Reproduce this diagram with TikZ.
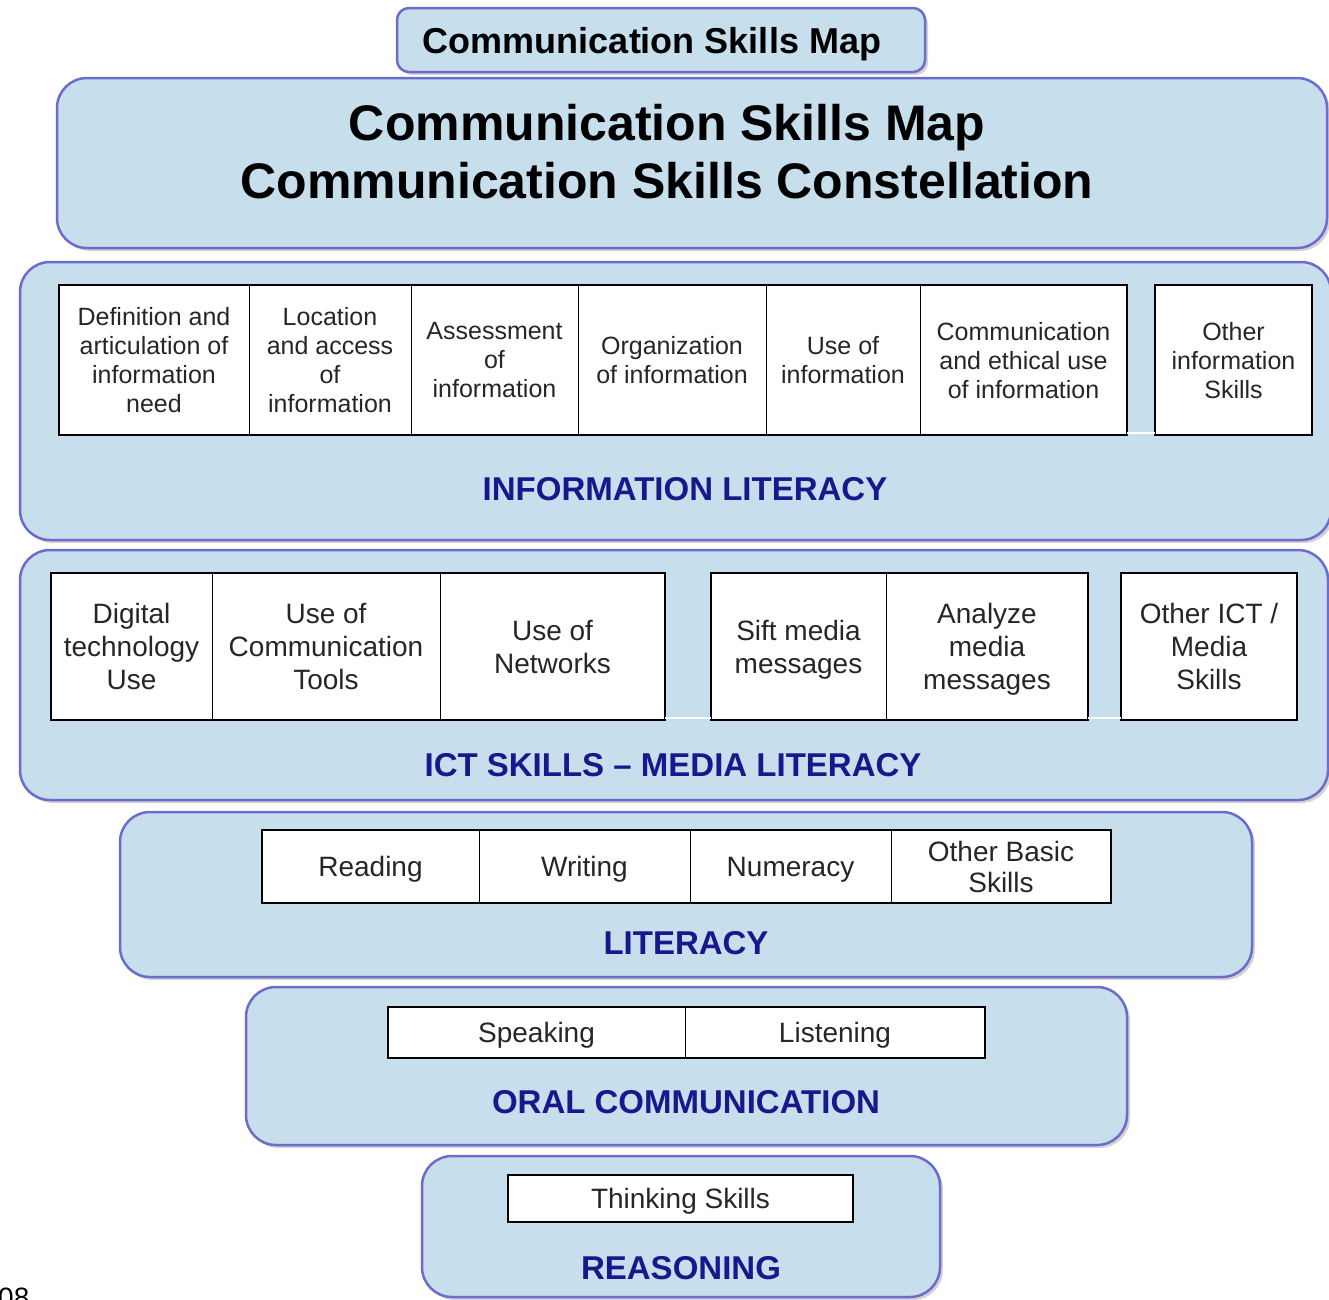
\documentclass[tikz,border=0pt]{standalone}
\usepackage{fontspec}
\setmainfont{Liberation Sans}
\usetikzlibrary{positioning,shadows}
\definecolor{bandfill}{RGB}{199,222,236}
\definecolor{bandline}{RGB}{108,108,204}
\definecolor{levelblue}{RGB}{24,24,140}
\begin{document}
\begin{tikzpicture}
[x=1pt, y=-1pt, text=black,
band/.style = {rectangle, rounded corners=30pt, draw=bandline, line width=2.5pt, fill=bandfill, inner sep=0pt,
               drop shadow={shadow xshift=3pt, shadow yshift=-3pt, opacity=.35}},
level/.style = {font=\fontsize{33}{38}\selectfont\bfseries, text=levelblue, inner sep=0pt},
cell/.style = {rectangle, draw=black, line width=1pt, fill=white, outer sep=0pt, inner sep=2pt,
               align=center, text=black!85, text depth=0pt, minimum width=#1},
infocell/.style = {cell=#1, minimum height=150pt, font=\fontsize{25}{29}\selectfont},
ictcell/.style = {cell=#1, minimum height=147pt, font=\fontsize{28}{33}\selectfont},
litcell/.style = {cell=#1, minimum height=73pt, font=\fontsize{28}{31}\selectfont},
oralcell/.style = {cell=#1, minimum height=51pt, font=\fontsize{28}{31}\selectfont},
thinkcell/.style = {cell=#1, minimum height=47pt, font=\fontsize{28}{31}\selectfont},
frame/.style = {draw=black, line width=2.2pt},
gap/.style = {draw=white, line width=1.5pt}]
\useasboundingbox (0,0) rectangle (1329,1299);

% the stacked bands, widest at the top
\node[band, rounded corners=12pt, minimum width=528pt, minimum height=64pt] (maptab) at (661,40) {};
\node[band, minimum width=1270pt, minimum height=170pt] (mapband) at (692,163) {};
\node[band, minimum width=1311pt, minimum height=278pt] (infoband) at (675.5,401) {};
\node[band, minimum width=1308pt, minimum height=250pt] (ictband) at (674,675) {};
\node[band, minimum width=1132pt, minimum height=165pt] (litband) at (686,894.5) {};
\node[band, minimum width=881pt, minimum height=158pt] (oralband) at (686.5,1066) {};
\node[band, minimum width=518pt, minimum height=141pt] (reasonband) at (681,1226.5) {};

\node[font=\fontsize{36}{40}\selectfont\bfseries, inner sep=0pt, text depth=0pt] (maptitle) at (652,40) {Communication Skills Map};
\node[font=\fontsize{50}{58}\selectfont\bfseries, align=center, inner sep=0pt] (maphead) at (667,152)
  {Communication Skills Map\\Communication Skills Constellation};

\node[infocell=190pt, anchor=north west] (define) at (59,285) {Definition and\\articulation of\\information\\need};
\node[infocell=162pt, right=0pt of define] (locate) {Location\\and access\\of\\information};
\node[infocell=167pt, right=0pt of locate] (assess) {Assessment\\of\\information};
\node[infocell=188pt, right=0pt of assess] (organize) {Organization\\of information};
\node[infocell=154pt, right=0pt of organize] (useinfo) {Use of\\information};
\node[infocell=207pt, right=0pt of useinfo] (ethical) {Communication\\and ethical use\\of information};
\node[infocell=157pt, anchor=north west] (otherinfo) at (1155,285) {Other\\information\\Skills};
\draw[frame] (define.north west) rectangle (ethical.south east);
\draw[frame] (otherinfo.north west) rectangle (otherinfo.south east);
\draw[gap] ([yshift=2pt]ethical.south east) -- ([yshift=2pt]otherinfo.south west);
\node[level] (infolabel) at (685,489) {INFORMATION LITERACY};

\node[ictcell=161pt, anchor=north west] (digital) at (51,573) {Digital\\technology\\Use};
\node[ictcell=228pt, right=0pt of digital] (tools) {Use of\\Communication\\Tools};
\node[ictcell=225pt, right=0pt of tools] (networks) {Use of\\Networks};
\node[ictcell=175pt, anchor=north west] (sift) at (711,573) {Sift media\\messages};
\node[ictcell=202pt, right=0pt of sift] (analyze) {Analyze\\media\\messages};
\node[ictcell=176pt, anchor=north west] (otherict) at (1121,573) {Other ICT /\\Media\\Skills};
\draw[frame] (digital.north west) rectangle (networks.south east);
\draw[frame] (sift.north west) rectangle (analyze.south east);
\draw[frame] (otherict.north west) rectangle (otherict.south east);
\draw[gap] ([yshift=2pt]networks.south east) -- ([yshift=2pt]sift.south west);
\draw[gap] ([yshift=2pt]analyze.south east) -- ([yshift=2pt]otherict.south west);
\node[level] (ictlabel) at (673,765) {ICT SKILLS – MEDIA LITERACY};

\node[litcell=217pt, anchor=north west] (reading) at (262,830) {Reading};
\node[litcell=211pt, right=0pt of reading] (writing) {Writing};
\node[litcell=201pt, right=0pt of writing] (numeracy) {Numeracy};
\node[litcell=220pt, right=0pt of numeracy] (otherbasic) {Other Basic\\Skills};
\draw[frame] (reading.north west) rectangle (otherbasic.south east);
\node[level] (litlabel) at (686,943) {LITERACY};

\node[oralcell=297pt, anchor=north west] (speaking) at (388,1007) {Speaking};
\node[oralcell=300pt, right=0pt of speaking] (listening) {Listening};
\draw[frame] (speaking.north west) rectangle (listening.south east);
\node[level] (orallabel) at (686,1102) {ORAL COMMUNICATION};

\node[thinkcell=345pt, anchor=north west] (thinking) at (508,1175) {Thinking Skills};
\draw[frame] (thinking.north west) rectangle (thinking.south east);
\node[level] (reasonlabel) at (681,1268) {REASONING};

\node[font=\fontsize{28}{31}\selectfont, anchor=north west, inner sep=0pt] (pagemark) at (-2,1288) {08};
\end{tikzpicture}
\end{document}
